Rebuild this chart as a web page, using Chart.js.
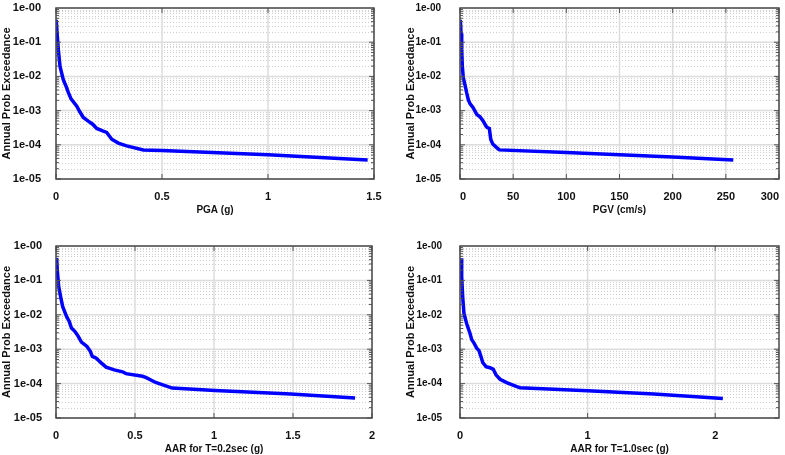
<!DOCTYPE html>
<html>
<head>
<meta charset="utf-8">
<script src="https://cdn.jsdelivr.net/npm/chart.js@4"></script>
<style>
body{margin:0;background:#fff;width:785px;height:455px;overflow:hidden;position:relative}
.pan{position:absolute}
</style>
</head>
<body>
<div class="pan" style="left:0;top:0;width:392px;height:225px"><canvas id="c1"></canvas></div>
<div class="pan" style="left:404px;top:0;width:381px;height:225px"><canvas id="c2"></canvas></div>
<div class="pan" style="left:0;top:230px;width:392px;height:225px"><canvas id="c3"></canvas></div>
<div class="pan" style="left:404px;top:230px;width:381px;height:225px"><canvas id="c4"></canvas></div>
<script>
// hazard curves
const pgaX=[0.001,0.005,0.011,0.019,0.034,0.05,0.058,0.071,0.098,0.113,0.129,0.152,0.173,0.192,0.223,0.239,0.263,0.294,0.333,0.412,0.5,1.0,1.47]
const pgaY=[0.45,0.19,0.06,0.0196,0.0081,0.0047,0.0034,0.0022,0.00135,0.00091,0.00063,0.00049,0.0004,0.0003,0.00025,0.00023,0.000145,0.000112,0.000093,0.000071,0.000068,0.000051,0.000036]

const pgvX=[0.3,1,1.6,2.2,3.1,5,6.3,7.8,9.4,12.5,15.7,18.8,21.9,24.5,25.7,27.6,28.9,30.8,34.5,37,100,150,200,257]
const pgvY=[0.45,0.18,0.06,0.0195,0.0091,0.0051,0.0033,0.0021,0.0016,0.0012,0.00078,0.00066,0.00049,0.00035,0.00032,0.0003,0.000145,0.000105,0.000083,0.000071,0.00006,0.000051,0.000044,0.000036]

const sa02X=[0.004,0.008,0.017,0.029,0.042,0.067,0.083,0.098,0.119,0.14,0.161,0.196,0.217,0.23,0.255,0.286,0.317,0.369,0.421,0.443,0.547,0.568,0.631,0.735,1.006,1.486,1.893]
const sa02Y=[0.45,0.2,0.067,0.034,0.0175,0.0089,0.0065,0.0041,0.0033,0.0024,0.0016,0.0012,0.00087,0.00062,0.00055,0.0004,0.0003,0.00025,0.00022,0.000195,0.000163,0.000151,0.000108,0.000074,0.000063,0.00005,0.000038]

const sa10X=[0.008,0.013,0.021,0.031,0.052,0.078,0.092,0.11,0.131,0.149,0.165,0.178,0.204,0.235,0.261,0.282,0.314,0.366,0.445,0.47,1.0,1.52,2.06]
const sa10Y=[0.44,0.13,0.034,0.011,0.0056,0.0029,0.0019,0.0015,0.00107,0.00091,0.0006,0.00041,0.00031,0.00029,0.00026,0.00018,0.000134,0.000107,0.000082,0.000076,0.000062,0.00005,0.000037]

const pgaTicks=[0,0.5,1,1.5]
const pgvTicks=[0,50,100,150,200,250,300]
const sa02Ticks=[0,0.5,1,1.5,2]
const sa10Ticks=[0,1,2]
const yTicks=[1,0.1,0.01,0.001,0.0001,0.00001]
const yLabels=["1e-00","1e-01","1e-02","1e-03","1e-04","1e-05"]
const yTitle="Annual Prob Exceedance"

// grid + frame drawn by hand so minor lines can be dotted
const gridPlugin={
id:"grid",
beforeDatasetsDraw(chart){
const {ctx,chartArea:a,scales:{x,y}}=chart
ctx.save()
ctx.lineWidth=1
ctx.strokeStyle="#cfcfcf"
ctx.setLineDash([1,2])
for(let e=-5;e<0;e++){
for(let m=2;m<=9;m++){
let py=Math.round(y.getPixelForValue(m*Math.pow(10,e)))+0.5
ctx.beginPath();ctx.moveTo(a.left,py);ctx.lineTo(a.right,py);ctx.stroke()
}
}
ctx.setLineDash([])
ctx.strokeStyle="#dcdcdc"
ctx.lineWidth=1.5
yTicks.forEach(v=>{
let py=y.getPixelForValue(v)
ctx.beginPath();ctx.moveTo(a.left,py);ctx.lineTo(a.right,py);ctx.stroke()
})
x.ticks.forEach(t=>{
let px=x.getPixelForValue(t.value)
ctx.beginPath();ctx.moveTo(px,a.top);ctx.lineTo(px,a.bottom);ctx.stroke()
})
ctx.restore()
},
afterDatasetsDraw(chart){
const {ctx,chartArea:a,scales:{x,y}}=chart
ctx.save()
ctx.strokeStyle="#555"
ctx.lineWidth=1
for(let e=-5;e<0;e++){
for(let m=1;m<=9;m++){
let py=y.getPixelForValue(m*Math.pow(10,e))
let len=m==1?5:3
ctx.beginPath()
ctx.moveTo(a.left,py);ctx.lineTo(a.left+len,py)
ctx.moveTo(a.right,py);ctx.lineTo(a.right-len,py)
ctx.stroke()
}
}
x.ticks.forEach(t=>{
let px=x.getPixelForValue(t.value)
ctx.beginPath()
ctx.moveTo(px,a.bottom);ctx.lineTo(px,a.bottom-5)
ctx.moveTo(px,a.top);ctx.lineTo(px,a.top+5)
ctx.stroke()
})
ctx.lineWidth=1.5
ctx.strokeStyle="#4a4a4a"
ctx.strokeRect(a.left,a.top,a.right-a.left,a.bottom-a.top)
ctx.restore()
}
}

Chart.defaults.font.family="'Liberation Sans', Arial, sans-serif"
Chart.defaults.font.weight="bold"
Chart.defaults.font.size=11
Chart.defaults.color="#111"

function makeChart(id,xs,ys,xTicks,xMax,xTitle,pad,yPad,yFont,xAlign){
const pts=xs.map((v,i)=>({x:v,y:ys[i]}))
return new Chart(document.getElementById(id),{
type:"line",
data:{datasets:[{data:pts,borderColor:"#0000ff",borderWidth:3.5,pointRadius:0,tension:0,fill:false}]},
options:{
responsive:true,
maintainAspectRatio:false,
animation:false,
layout:{padding:pad},
plugins:{legend:{display:false},tooltip:{enabled:false}},
scales:{
x:{
type:"linear",min:0,max:xMax,
grid:{display:false},border:{display:false},
afterBuildTicks:s=>{s.ticks=xTicks.map(v=>({value:v}))},
ticks:{padding:3,maxRotation:0,autoSkip:false,align:xAlign||"center",callback:v=>String(v)},
title:{display:true,text:xTitle,font:{size:10,weight:"bold"},padding:0},
afterFit:s=>{s.height=37;s.paddingLeft=0;s.paddingRight=0}
},
y:{
type:"logarithmic",min:0.00001,max:1,
grid:{display:false},border:{display:false},
afterBuildTicks:s=>{s.ticks=yTicks.map(v=>({value:v}))},
ticks:{padding:yPad,autoSkip:false,font:{size:yFont,weight:"bold"},callback:(v)=>yLabels[yTicks.findIndex(t=>Math.abs(t-v)<t*1e-6)]},
title:{display:true,text:yTitle,font:{size:11,weight:"bold"},padding:0},
afterFit:s=>{s.width=56;s.paddingTop=0;s.paddingBottom=0}
}
}
},
plugins:[gridPlugin]
})
}

makeChart("c1",pgaX,pgaY,pgaTicks,1.5,"PGA (g)",{left:0,top:8,right:18,bottom:9},7,11)
makeChart("c2",pgvX,pgvY,pgvTicks,300,"PGV (cm/s)",{left:0,top:8,right:6,bottom:9},11,10,"inner")
makeChart("c3",sa02X,sa02Y,sa02Ticks,2,"AAR for T=0.2sec (g)",{left:0,top:16,right:20,bottom:0},6,11)
makeChart("c4",sa10X,sa10Y,sa10Ticks,2.5,"AAR for T=1.0sec (g)",{left:0,top:16,right:6,bottom:0},10,10)
</script>
</body>
</html>
